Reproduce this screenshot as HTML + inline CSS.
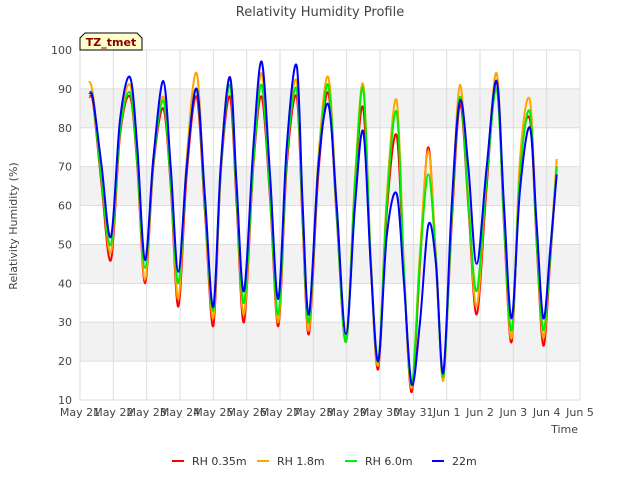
<!DOCTYPE html>
<html><head><meta charset="utf-8"><style>
body{margin:0;background:#fff;font-family:"Liberation Sans",sans-serif}
svg text{font-family:"DejaVu Sans","Liberation Sans",sans-serif}
</style></head><body>
<svg id="c" width="640" height="480" xmlns="http://www.w3.org/2000/svg">
<text x="320" y="16" text-anchor="middle" font-size="13" fill="#444">Relativity Humidity Profile</text>
<g id="plot"></g>
<g>
<path d="M80,50 L80,38 L85,33 L137,33 L142,38 L142,50 Z" fill="#ffffcc" stroke="#000"/>
<text x="111" y="46" text-anchor="middle" font-size="11" font-weight="bold" fill="#8b0000">TZ_tmet</text>
</g>
<text transform="translate(17,226) rotate(-90)" text-anchor="middle" font-size="11" fill="#444">Relativity Humidity (%)</text>
<text x="578" y="433" text-anchor="end" font-size="11" fill="#444">Time</text>
<g id="legend" font-size="11" fill="#333"></g>
</svg>
<script>
const times=[0.28,0.4,0.65,0.93,1.2,1.5,1.72,1.95,2.2,2.5,2.72,2.95,3.2,3.5,3.75,4.0,4.22,4.5,4.7,4.92,5.2,5.45,5.7,5.95,6.2,6.5,6.68,6.87,7.15,7.45,7.7,7.98,8.25,8.5,8.72,8.95,9.2,9.5,9.72,9.95,10.2,10.45,10.68,10.9,11.15,11.4,11.65,11.9,12.2,12.5,12.72,12.95,13.2,13.5,13.7,13.9,14.1,14.3];
const rh035=[88,86,65,46,78,88,70,40,70,85,65,34,68,88,58,29,68,88,60,30,70,88,62,29,70,88,55,27,68,89,57,25,65,85,45,18,58,78,42,12,45,75,45,17,55,86,60,32,65,92,55,25,70,82,50,24,45,70];
const rh18=[92,88,67,48,80,91,72,41,72,88,67,36,72,94,60,31,70,93,63,32,72,94,65,30,74,92,58,28,72,93,60,26,67,91,47,19,62,87,44,13,48,74,47,15,58,91,62,34,68,94,57,26,72,87,52,26,47,72];
const rh60=[89,87,66,50,79,89,71,44,71,87,66,40,70,90,60,33,69,91,62,35,71,91,63,32,72,90,57,30,70,91,58,25,66,90,46,20,60,84,43,14,46,68,46,16,57,88,61,38,67,90,56,28,68,84,51,28,46,70];
const rh22=[89,87,70,52,82,93,75,46,72,92,70,43,70,90,62,34,70,93,65,38,75,97,68,36,75,96,60,32,70,86,60,27,60,79,45,20,52,63,40,14,30,55,45,17,60,87,70,45,70,92,60,31,64,80,55,31,48,68];
const yTicks=[10,20,30,40,50,60,70,80,90,100];
const xTicks=["May 21","May 22","May 23","May 24","May 25","May 26","May 27","May 28","May 29","May 30","May 31","Jun 1","Jun 2","Jun 3","Jun 4","Jun 5"];
const series=[["RH 0.35m",rh035,"#ff0000"],["RH 1.8m",rh18,"#ffa500"],["RH 6.0m",rh60,"#00ee00"],["22m",rh22,"#0000ff"]];
const L=80,R=580,T=50,B=400,NS="http://www.w3.org/2000/svg";
const xs=d=>L+(R-L)*d/15, ys=v=>B-(B-T)*(v-10)/90;
const plot=document.getElementById('plot');
function mk(tag,a,p){const e=document.createElementNS(NS,tag);for(const k in a)e.setAttribute(k,a[k]);(p||plot).appendChild(e);return e;}
function smooth(pts){let d='M'+pts[0][0].toFixed(1)+','+pts[0][1].toFixed(1);
for(let i=0;i<pts.length-1;i++){const p0=pts[Math.max(0,i-1)],p1=pts[i],p2=pts[i+1],p3=pts[Math.min(pts.length-1,i+2)];
const c1=[p1[0]+(p2[0]-p0[0])/6,p1[1]+(p2[1]-p0[1])/6],c2=[p2[0]-(p3[0]-p1[0])/6,p2[1]-(p3[1]-p1[1])/6];
d+=' C'+c1.map(v=>v.toFixed(1)).join(',')+' '+c2.map(v=>v.toFixed(1)).join(',')+' '+p2[0].toFixed(1)+','+p2[1].toFixed(1);}
return d;}
for(let v=20;v<100;v+=20){const r=mk('rect',{x:L,y:ys(v+10),width:R-L,height:ys(v)-ys(v+10),fill:'#f2f2f2'});

}
yTicks.forEach(v=>{const l=mk('line',{x1:L,x2:R,y1:ys(v),y2:ys(v),stroke:'#ddd'});


const t=mk('text',{x:L-8,y:ys(v)+4,'text-anchor':'end','font-size':11,fill:'#444'});t.textContent=v;

});
xTicks.forEach((s,i)=>{const l=mk('line',{x1:xs(i),x2:xs(i),y1:T,y2:B,stroke:'#ddd'});


const t=mk('text',{x:xs(i),y:B+16,'text-anchor':'middle','font-size':11,fill:'#444'});t.textContent=s;

});
series.forEach(([n,vals,c])=>{const p=mk('path',{d:smooth(vals.map((v,i)=>[xs(times[i]),ys(v)])),fill:'none',stroke:c,'stroke-width':2,'stroke-linejoin':'round'});

});
const lg=document.getElementById('legend');const lx=[172,257,345,432];
series.forEach(([n,v,c],i)=>{const g=mk('g',{},lg);


mk('line',{x1:lx[i],x2:lx[i]+12,y1:461,y2:461,stroke:c,'stroke-width':2},g);
const t=mk('text',{x:lx[i]+20,y:465},g);t.textContent=n;});
</script>
</body></html>
